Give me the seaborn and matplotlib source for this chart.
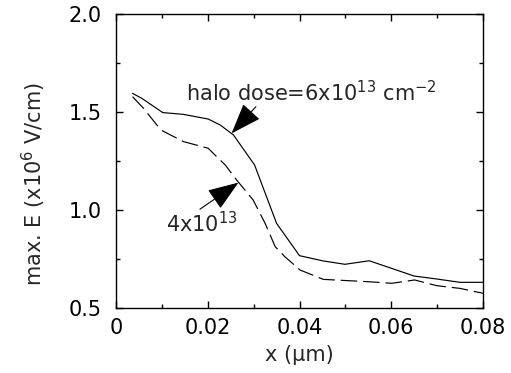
import numpy as np
import pandas as pd
import matplotlib
matplotlib.use("Agg")
import matplotlib.pyplot as plt
import seaborn as sns

# Data
x_solid = [0.0036, 0.0056, 0.0102, 0.0147, 0.0201, 0.0227, 0.0256, 0.0302, 0.0350,
           0.0400, 0.0452, 0.0499, 0.0552, 0.0601, 0.0650, 0.0699, 0.0750, 0.0800]
e_solid = [1.595, 1.570, 1.497, 1.488, 1.464, 1.434, 1.383, 1.230, 0.932,
           0.767, 0.740, 0.723, 0.741, 0.702, 0.663, 0.648, 0.631, 0.631]

x_dash = [0.0036, 0.0060, 0.0089, 0.0102, 0.0147, 0.0201, 0.0216, 0.0238, 0.0263,
          0.0299, 0.0325, 0.0347, 0.0368, 0.0401, 0.0452, 0.0551, 0.0601, 0.0651,
          0.0699, 0.0750, 0.0800]
e_dash = [1.578, 1.519, 1.434, 1.403, 1.349, 1.315, 1.280, 1.230, 1.153,
          1.051, 0.932, 0.813, 0.762, 0.694, 0.646, 0.634, 0.626, 0.643,
          0.614, 0.600, 0.575]

series_labels = ["6e13", "4e13"]
x_ticks = [0, 0.02, 0.04, 0.06, 0.08]
x_ticklabels = ["0", "0.02", "0.04", "0.06", "0.08"]
y_ticks = [0.5, 1.0, 1.5, 2.0]
y_ticklabels = ["0.5", "1.0", "1.5", "2.0"]

sns.set_style("ticks")
plt.rcParams['font.family'] = ['DejaVu Sans']
plt.rcParams['mathtext.fontset'] = 'dejavusans'
plt.rcParams['mathtext.default'] = 'regular'

FS = 15

df = pd.concat([
    pd.DataFrame({"x": x_solid, "E": e_solid, "dose": series_labels[0]}),
    pd.DataFrame({"x": x_dash, "E": e_dash, "dose": series_labels[1]}),
])

fig = plt.figure(figsize=(5.11, 3.73), dpi=100)
ax = fig.add_axes([116/511, 1 - 308/373, (483-116)/511, (308-14)/373])

sns.lineplot(data=df, x="x", y="E", hue="dose", style="dose",
             palette={series_labels[0]: "black", series_labels[1]: "black"},
             dashes={series_labels[0]: "", series_labels[1]: (14, 5)},
             linewidth=0.85, legend=False, ax=ax, sort=False, estimator=None)

ax.set_xlim(0, 0.08)
ax.set_ylim(0.5, 2.0)
ax.set_xticks(x_ticks)
ax.set_xticklabels(x_ticklabels)
ax.set_yticks(y_ticks)
ax.set_yticklabels(y_ticklabels)
ax.set_xticks([0.01, 0.03, 0.05, 0.07], minor=True)
ax.set_yticks([0.75, 1.25, 1.75], minor=True)
ax.tick_params(which='both', direction='in', top=True, right=True, labelsize=FS,
               color='black', labelcolor='black')
ax.tick_params(axis='x', which='both', pad=7)
ax.tick_params(axis='y', which='both', pad=10)
ax.tick_params(which='major', length=5, width=1)
ax.tick_params(which='minor', length=3, width=1)
for s in ax.spines.values():
    s.set_linewidth(1)
    s.set_color('black')

ax.set_xlabel("x (\u03bcm)", fontsize=FS)
ax.set_ylabel("max. E (x10$^{6}$ V/cm)", fontsize=FS)
ax.xaxis.set_label_coords(0.5, -0.125)
ax.yaxis.set_label_coords(-0.185, 0.42)

arrowprops = dict(arrowstyle="-|>,head_length=1.5,head_width=0.55", color="black",
                  lw=0.8, shrinkA=0, shrinkB=0, mutation_scale=13)
ax.text(0.0427, 1.556, "halo dose=6x10$^{13}$ cm$^{-2}$", fontsize=FS,
        ha='center', va='baseline')
ax.annotate("", xy=(0.0252, 1.391), xytext=(0.0305, 1.527), arrowprops=arrowprops)
ax.text(0.0188, 0.888, "4x10$^{13}$", fontsize=FS, ha='center', va='baseline')
ax.annotate("", xy=(0.0267, 1.14), xytext=(0.0183, 1.004), arrowprops=arrowprops)

fig.savefig("out.png", dpi=100)
